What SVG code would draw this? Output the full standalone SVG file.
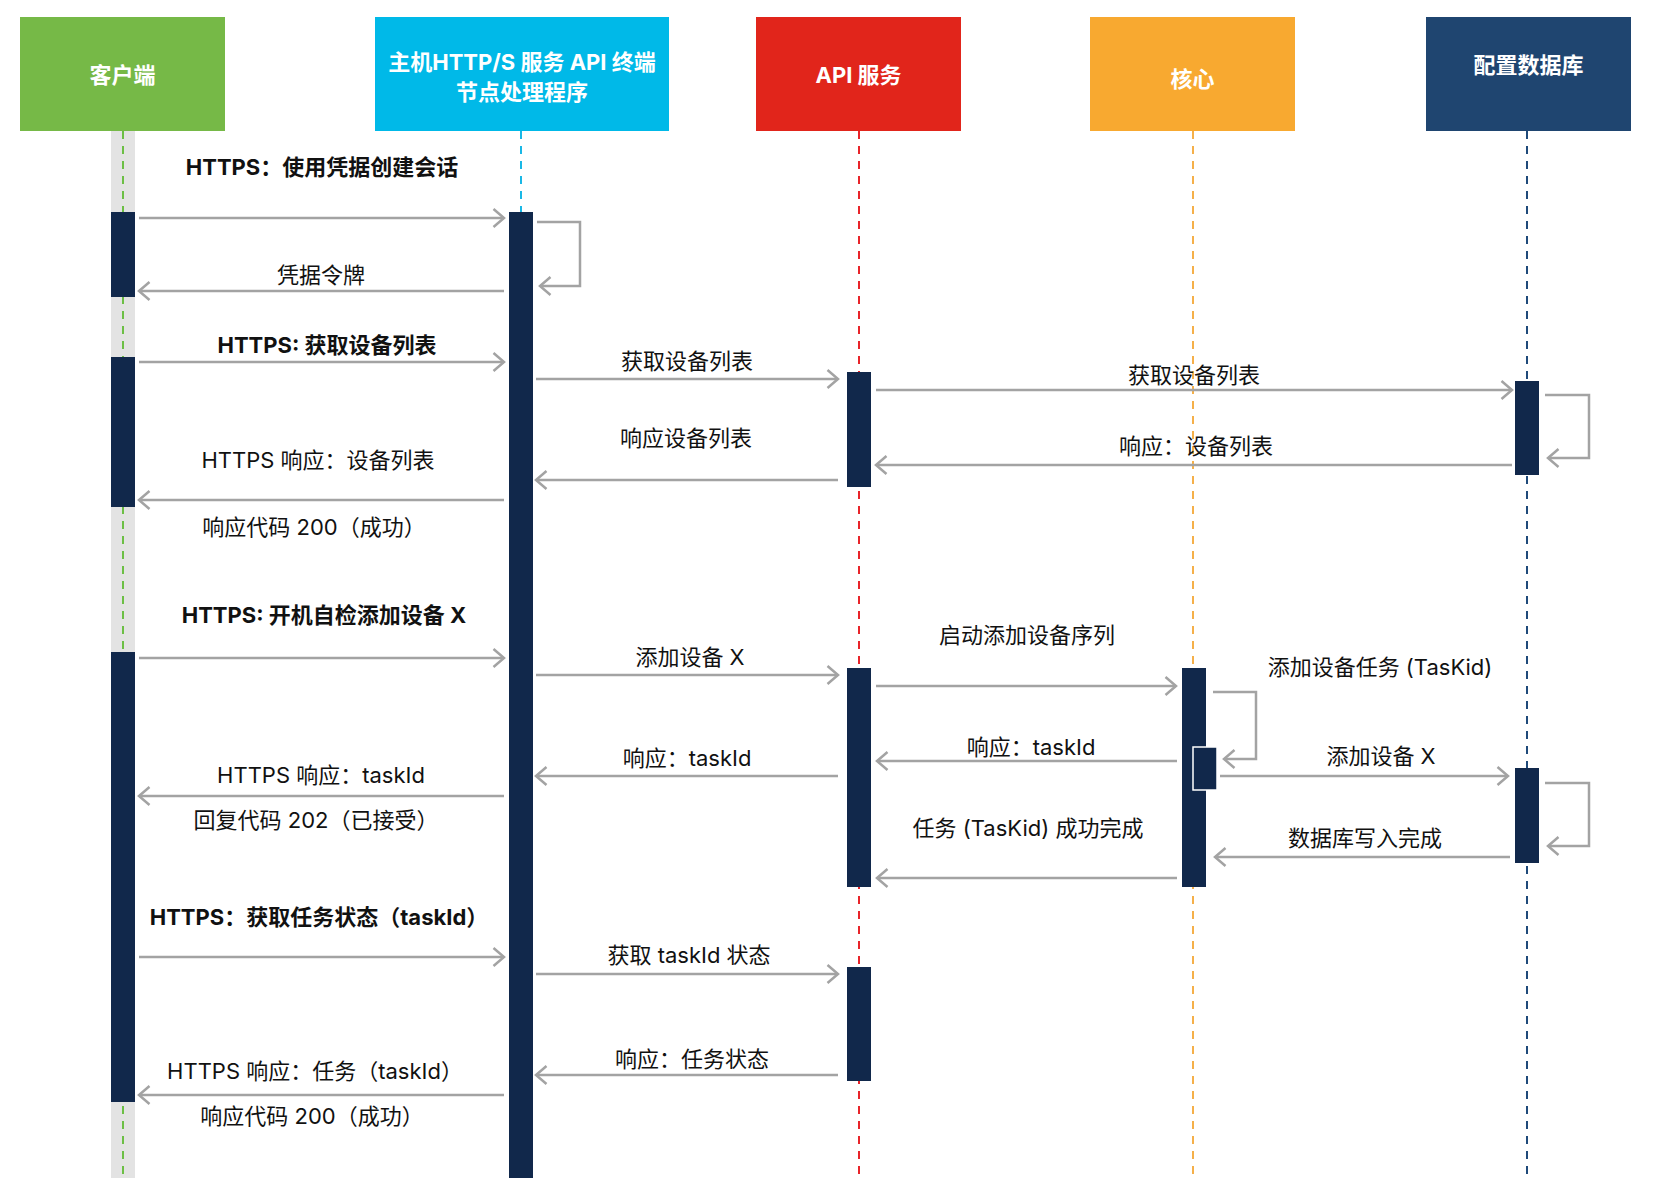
<svg xmlns="http://www.w3.org/2000/svg" width="1670" height="1202" viewBox="0 0 1670 1202">
<style>
.hd{font-family:Inter,"Noto Sans CJK SC",sans-serif;font-size:22px;font-weight:700;fill:#fff;text-anchor:middle;dominant-baseline:central}
.lb{font-family:Inter,"Noto Sans CJK SC",sans-serif;font-size:22px;fill:#111;text-anchor:middle;dominant-baseline:central}
.b{font-weight:700}
.act{fill:#11284b}
.msg{fill:none;stroke:#a3a3a3;stroke-width:2.5;marker-end:url(#ah)}
.ll{fill:none;stroke-width:2;stroke-dasharray:8 7}
</style>
<defs>
<marker id="ah" markerUnits="userSpaceOnUse" markerWidth="16" markerHeight="22" refX="12" refY="10" orient="auto">
<path d="M1.5,1 L12,10 L1.5,19" fill="none" stroke="#a3a3a3" stroke-width="2.5"/>
</marker>
</defs>
<rect width="1670" height="1202" fill="#fff"/>

<g id="client">
<rect x="20" y="17" width="205" height="114" fill="#76b947"/>
<text class="hd" x="122.5" y="75">客户端</text>
<rect x="111" y="131" width="24" height="1047" fill="#e3e3e3"/>
<line class="ll" x1="123" y1="131" x2="123" y2="1178" stroke="#6cbf45"/>
<rect class="act" x="111" y="212" width="24" height="85"/>
<rect class="act" x="111" y="357" width="24" height="150"/>
<rect class="act" x="111" y="652" width="24" height="450"/>
</g>

<g id="host">
<rect x="375" y="17" width="294" height="114" fill="#00b9e8"/>
<text class="hd" x="522" y="62">主机HTTP/S 服务 API 终端</text>
<text class="hd" x="522" y="92">节点处理程序</text>
<line class="ll" x1="521" y1="131" x2="521" y2="212" stroke="#1ab8e6"/>
<rect class="act" x="509" y="212" width="24" height="966"/>
</g>

<g id="api">
<rect x="756" y="17" width="205" height="114" fill="#e1251b"/>
<text class="hd" x="858.5" y="75">API 服务</text>
<line class="ll" x1="859" y1="131" x2="859" y2="1178" stroke="#e8242a"/>
<rect class="act" x="847" y="372" width="24" height="115"/>
<rect class="act" x="847" y="668" width="24" height="219"/>
<rect class="act" x="847" y="967" width="24" height="114"/>
</g>

<g id="core">
<rect x="1090" y="17" width="205" height="114" fill="#f8a930"/>
<text class="hd" x="1192.5" y="79">核心</text>
<line class="ll" x1="1193" y1="131" x2="1193" y2="1178" stroke="#f5b04a"/>
<rect class="act" x="1182" y="668" width="24" height="219"/>
<rect class="act" x="1193" y="747" width="24" height="43" stroke="#fff" stroke-width="1.5"/>
</g>

<g id="configdb">
<rect x="1426" y="17" width="205" height="114" fill="#1f4570"/>
<text class="hd" x="1528.5" y="65">配置数据库</text>
<line class="ll" x1="1527" y1="131" x2="1527" y2="1178" stroke="#1f4a7a"/>
<rect class="act" x="1515" y="381" width="24" height="94"/>
<rect class="act" x="1515" y="768" width="24" height="95"/>
</g>

<g id="connectors">
<line class="msg" x1="139" y1="218" x2="504" y2="218"/>
<polyline class="msg" points="537,222 580,222 580,286 540,286"/>
<line class="msg" x1="504" y1="291" x2="139" y2="291"/>
<line class="msg" x1="139" y1="362" x2="504" y2="362"/>
<line class="msg" x1="536" y1="379" x2="838" y2="379"/>
<line class="msg" x1="876" y1="390" x2="1512" y2="390"/>
<polyline class="msg" points="1545,395 1589,395 1589,458 1548,458"/>
<line class="msg" x1="1512" y1="465" x2="876" y2="465"/>
<line class="msg" x1="838" y1="480" x2="536" y2="480"/>
<line class="msg" x1="504" y1="500" x2="139" y2="500"/>
<line class="msg" x1="139" y1="658" x2="504" y2="658"/>
<line class="msg" x1="536" y1="675" x2="838" y2="675"/>
<line class="msg" x1="876" y1="686" x2="1176" y2="686"/>
<polyline class="msg" points="1213,692 1256,692 1256,759 1224,759"/>
<line class="msg" x1="1177" y1="761" x2="877" y2="761"/>
<line class="msg" x1="1220" y1="776" x2="1508" y2="776"/>
<polyline class="msg" points="1545,783 1589,783 1589,846 1548,846"/>
<line class="msg" x1="1510" y1="857" x2="1215" y2="857"/>
<line class="msg" x1="1177" y1="878" x2="877" y2="878"/>
<line class="msg" x1="838" y1="776" x2="536" y2="776"/>
<line class="msg" x1="504" y1="796" x2="139" y2="796"/>
<line class="msg" x1="139" y1="957" x2="504" y2="957"/>
<line class="msg" x1="536" y1="974" x2="838" y2="974"/>
<line class="msg" x1="838" y1="1075" x2="536" y2="1075"/>
<line class="msg" x1="504" y1="1095" x2="139" y2="1095"/>
</g>

<g id="labels">
<text class="lb b" x="322" y="167">HTTPS：使用凭据创建会话</text>
<text class="lb" x="321" y="275">凭据令牌</text>
<text class="lb b" x="327" y="345">HTTPS: 获取设备列表</text>
<text class="lb" x="687" y="361">获取设备列表</text>
<text class="lb" x="1194" y="375">获取设备列表</text>
<text class="lb" x="1196" y="446">响应：设备列表</text>
<text class="lb" x="686" y="438">响应设备列表</text>
<text class="lb" x="318" y="460">HTTPS 响应：设备列表</text>
<text class="lb" x="314" y="527">响应代码 200（成功）</text>
<text class="lb b" x="324" y="615">HTTPS: 开机自检添加设备 X</text>
<text class="lb" x="690" y="657">添加设备 X</text>
<text class="lb" x="1027" y="635">启动添加设备序列</text>
<text class="lb" x="1380" y="667">添加设备任务 (TasKid)</text>
<text class="lb" x="1031" y="747">响应：taskId</text>
<text class="lb" x="1381" y="756">添加设备 X</text>
<text class="lb" x="1365" y="838">数据库写入完成</text>
<text class="lb" x="1028" y="828">任务 (TasKid) 成功完成</text>
<text class="lb" x="687" y="758">响应：taskId</text>
<text class="lb" x="321" y="775">HTTPS 响应：taskId</text>
<text class="lb" x="316" y="820">回复代码 202（已接受）</text>
<text class="lb b" x="319" y="917">HTTPS：获取任务状态（taskId）</text>
<text class="lb" x="689" y="955">获取 taskId 状态</text>
<text class="lb" x="692" y="1059">响应：任务状态</text>
<text class="lb" x="315" y="1071">HTTPS 响应：任务（taskId）</text>
<text class="lb" x="312" y="1116">响应代码 200（成功）</text>
</g>
</svg>
